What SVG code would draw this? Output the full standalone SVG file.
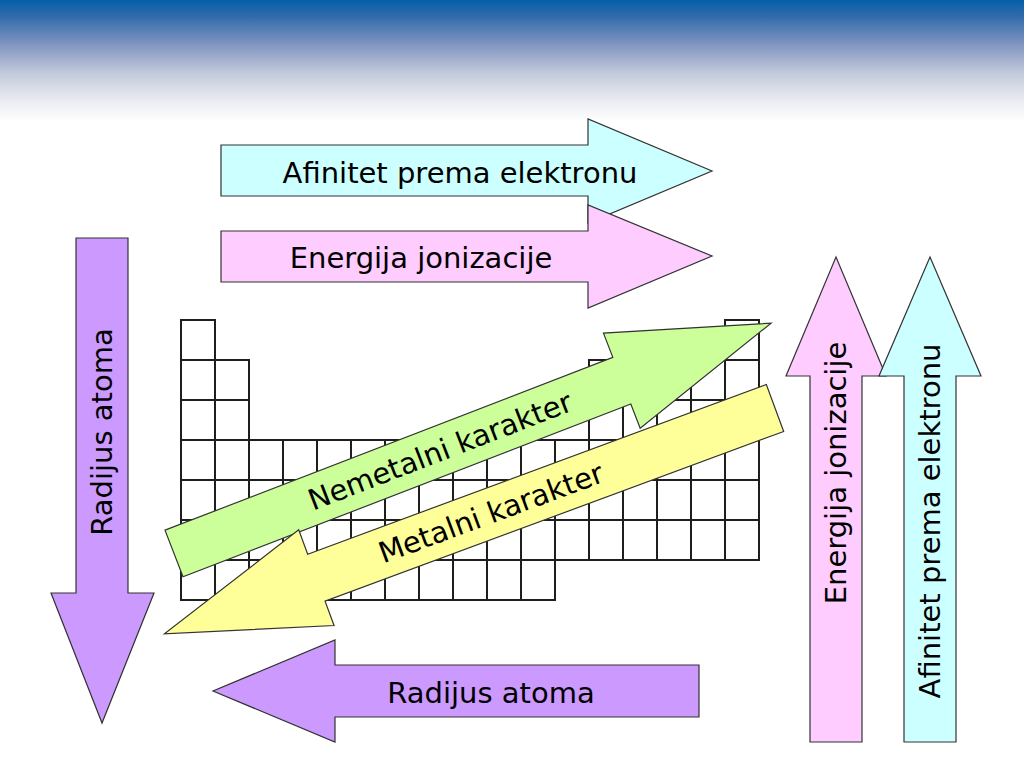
<svg xmlns="http://www.w3.org/2000/svg" width="1024" height="768" viewBox="0 0 1024 768">
  <defs>
    <linearGradient id="hdr" x1="0" y1="0" x2="0" y2="1">
      <stop offset="0" stop-color="#0560A8"/>
      <stop offset="0.12" stop-color="#2C69AA"/>
      <stop offset="0.35" stop-color="#7C92BE"/>
      <stop offset="0.6" stop-color="#C3CADB"/>
      <stop offset="0.85" stop-color="#EEEFF4"/>
      <stop offset="1" stop-color="#FFFFFF"/>
    </linearGradient>
  </defs>
  <style>
    .cell { fill: #FFFFFF; stroke: #1E1E1E; stroke-width: 2; }
    .arr { stroke: #333333; stroke-width: 1.2; stroke-linejoin: miter; }
    .cyan { fill: #CCFFFF; }
    .pink { fill: #FFCCFF; }
    .purple { fill: #CC99FF; }
    .green { fill: #CCFF99; }
    .yellow { fill: #FFFF99; }
    .lbl { font-family: "DejaVu Sans", Verdana, sans-serif; font-size: 29px; fill: #000000; text-anchor: middle; }
  </style>
  <rect x="0" y="0" width="1024" height="768" fill="#FFFFFF"/>
  <rect x="0" y="0" width="1024" height="122" fill="url(#hdr)"/>

  <g id="periodic-table">
    <!-- row 1 -->
    <rect class="cell" x="181" y="320" width="34" height="40"/>
    <rect class="cell" x="725" y="320" width="34" height="40"/>
    <!-- rows 2-3 -->
    <rect class="cell" x="181" y="360" width="34" height="40"/>
    <rect class="cell" x="215" y="360" width="34" height="40"/>
    <rect class="cell" x="589" y="360" width="34" height="40"/>
    <rect class="cell" x="623" y="360" width="34" height="40"/>
    <rect class="cell" x="657" y="360" width="34" height="40"/>
    <rect class="cell" x="691" y="360" width="34" height="40"/>
    <rect class="cell" x="725" y="360" width="34" height="40"/>
    <rect class="cell" x="181" y="400" width="34" height="40"/>
    <rect class="cell" x="215" y="400" width="34" height="40"/>
    <rect class="cell" x="589" y="400" width="34" height="40"/>
    <rect class="cell" x="623" y="400" width="34" height="40"/>
    <rect class="cell" x="657" y="400" width="34" height="40"/>
    <rect class="cell" x="691" y="400" width="34" height="40"/>
    <rect class="cell" x="725" y="400" width="34" height="40"/>
    <!-- rows 4-6 full -->
    <g>
      <rect class="cell" x="181" y="440" width="34" height="40"/><rect class="cell" x="215" y="440" width="34" height="40"/><rect class="cell" x="249" y="440" width="34" height="40"/><rect class="cell" x="283" y="440" width="34" height="40"/><rect class="cell" x="317" y="440" width="34" height="40"/><rect class="cell" x="351" y="440" width="34" height="40"/><rect class="cell" x="385" y="440" width="34" height="40"/><rect class="cell" x="419" y="440" width="34" height="40"/><rect class="cell" x="453" y="440" width="34" height="40"/><rect class="cell" x="487" y="440" width="34" height="40"/><rect class="cell" x="521" y="440" width="34" height="40"/><rect class="cell" x="555" y="440" width="34" height="40"/><rect class="cell" x="589" y="440" width="34" height="40"/><rect class="cell" x="623" y="440" width="34" height="40"/><rect class="cell" x="657" y="440" width="34" height="40"/><rect class="cell" x="691" y="440" width="34" height="40"/><rect class="cell" x="725" y="440" width="34" height="40"/>
      <rect class="cell" x="181" y="480" width="34" height="40"/><rect class="cell" x="215" y="480" width="34" height="40"/><rect class="cell" x="249" y="480" width="34" height="40"/><rect class="cell" x="283" y="480" width="34" height="40"/><rect class="cell" x="317" y="480" width="34" height="40"/><rect class="cell" x="351" y="480" width="34" height="40"/><rect class="cell" x="385" y="480" width="34" height="40"/><rect class="cell" x="419" y="480" width="34" height="40"/><rect class="cell" x="453" y="480" width="34" height="40"/><rect class="cell" x="487" y="480" width="34" height="40"/><rect class="cell" x="521" y="480" width="34" height="40"/><rect class="cell" x="555" y="480" width="34" height="40"/><rect class="cell" x="589" y="480" width="34" height="40"/><rect class="cell" x="623" y="480" width="34" height="40"/><rect class="cell" x="657" y="480" width="34" height="40"/><rect class="cell" x="691" y="480" width="34" height="40"/><rect class="cell" x="725" y="480" width="34" height="40"/>
      <rect class="cell" x="181" y="520" width="34" height="40"/><rect class="cell" x="215" y="520" width="34" height="40"/><rect class="cell" x="249" y="520" width="34" height="40"/><rect class="cell" x="283" y="520" width="34" height="40"/><rect class="cell" x="317" y="520" width="34" height="40"/><rect class="cell" x="351" y="520" width="34" height="40"/><rect class="cell" x="385" y="520" width="34" height="40"/><rect class="cell" x="419" y="520" width="34" height="40"/><rect class="cell" x="453" y="520" width="34" height="40"/><rect class="cell" x="487" y="520" width="34" height="40"/><rect class="cell" x="521" y="520" width="34" height="40"/><rect class="cell" x="555" y="520" width="34" height="40"/><rect class="cell" x="589" y="520" width="34" height="40"/><rect class="cell" x="623" y="520" width="34" height="40"/><rect class="cell" x="657" y="520" width="34" height="40"/><rect class="cell" x="691" y="520" width="34" height="40"/><rect class="cell" x="725" y="520" width="34" height="40"/>
    </g>
    <!-- row 7 -->
    <rect class="cell" x="181" y="560" width="34" height="40"/><rect class="cell" x="215" y="560" width="34" height="40"/><rect class="cell" x="249" y="560" width="34" height="40"/><rect class="cell" x="283" y="560" width="34" height="40"/><rect class="cell" x="317" y="560" width="34" height="40"/><rect class="cell" x="351" y="560" width="34" height="40"/><rect class="cell" x="385" y="560" width="34" height="40"/><rect class="cell" x="419" y="560" width="34" height="40"/><rect class="cell" x="453" y="560" width="34" height="40"/><rect class="cell" x="487" y="560" width="34" height="40"/><rect class="cell" x="521" y="560" width="34" height="40"/>
  </g>

  <g id="connectors">
    <g id="arrow-afinitet-h">
      <polygon class="arr cyan" points="221,145 588,145 588,119 712,171 588,223 588,196 221,196"/>
      <text class="lbl" x="460" y="183">Afinitet prema elektronu</text>
    </g>
    <g id="arrow-energija-h">
      <polygon class="arr pink" points="221,231 588,231 588,205 712,256 588,308 588,282 221,282"/>
      <text class="lbl" x="421" y="268">Energija jonizacije</text>
    </g>
    <g id="arrow-radijus-v">
      <polygon class="arr purple" points="76,238 128,238 128,593 154,593 102,723 51,593 76,593"/>
      <text class="lbl" transform="translate(102,432) rotate(-90)" x="0" y="10">Radijus atoma</text>
    </g>
    <g id="arrow-radijus-h">
      <polygon class="arr purple" points="699,665 699,717 335,717 335,742 213,691 335,640 335,665"/>
      <text class="lbl" x="491" y="703">Radijus atoma</text>
    </g>
    <g id="arrow-energija-v">
      <polygon class="arr pink" points="810,742 810,376 786,376 836,257 886,376 862,376 862,742"/>
      <text class="lbl" transform="translate(836,473) rotate(-90)" x="0" y="10">Energija jonizacije</text>
    </g>
    <g id="arrow-afinitet-v">
      <polygon class="arr cyan" points="904,742 904,376 879,376 930,257 981,376 956,376 956,742"/>
      <text class="lbl" transform="translate(930,521) rotate(-90)" x="0" y="10">Afinitet prema elektronu</text>
    </g>
    <g id="arrow-nemetalni">
      <polygon class="arr green" transform="translate(174,553.5) rotate(-21.1)" points="0,-25 480,-25 480,-51 640,0 480,51 480,25 0,25"/>
      <text class="lbl" transform="translate(440,451) rotate(-21.1)" x="0" y="10">Nemetalni karakter</text>
    </g>
    <g id="arrow-metalni">
      <polygon class="arr yellow" transform="translate(775,408) rotate(159.7)" points="0,-25 489,-25 489,-51 651,0 489,51 489,25 0,25"/>
      <text class="lbl" transform="translate(491,513) rotate(-20.3)" x="0" y="10">Metalni karakter</text>
    </g>
  </g>
</svg>
